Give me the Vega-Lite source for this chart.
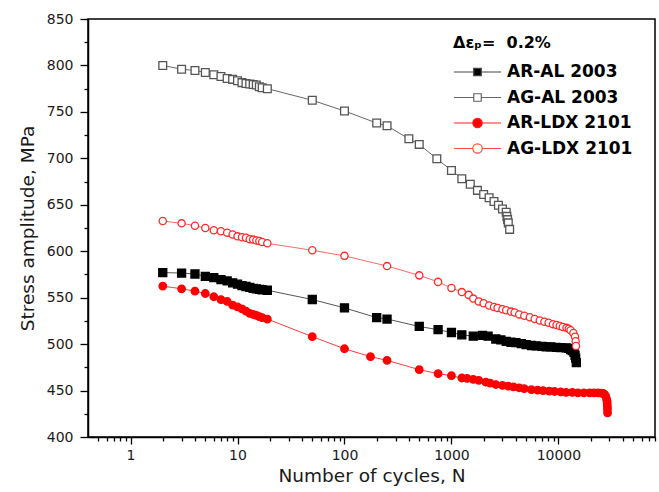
{
  "$schema": "https://vega.github.io/schema/vega-lite/v6.json",
  "width": 567,
  "height": 418,
  "autosize": {"type": "none"},
  "padding": {"left": 88, "top": 19, "right": 4, "bottom": 55},
  "background": "white",
  "config": {
    "view": {"stroke": "#000", "strokeWidth": 1.5},
    "axis": {
      "grid": false,
      "domainColor": "#000",
      "domainWidth": 1.5,
      "tickColor": "#000",
      "tickWidth": 1.3,
      "labelFont": "DejaVu Sans",
      "labelFontSize": 14,
      "labelColor": "#1a1a1a",
      "titleFont": "DejaVu Sans",
      "titleFontSize": 18.5,
      "titleFontWeight": "normal",
      "titleColor": "#1a1a1a",
      "labelFlush": false,
      "labelOverlap": false
    },
    "legend": {
      "titleFont": "DejaVu Sans",
      "titleFontSize": 16,
      "titleFontWeight": "bold",
      "titleColor": "#000",
      "titlePadding": 12,
      "labelFont": "DejaVu Sans",
      "labelFontSize": 17,
      "labelFontWeight": "bold",
      "labelColor": "#000",
      "labelOffset": 5,
      "labelLimit": 300,
      "rowPadding": 7.5,
      "clipHeight": 18,
      "symbolSize": 2209,
      "symbolStrokeWidth": 1.2,
      "symbolOpacity": 1,
      "padding": 0
    }
  },
  "resolve": {
    "axis": {"x": "independent", "y": "independent"},
    "scale": {"shape": "independent", "fill": "independent", "stroke": "independent"}
  },
  "data": {
    "values": [
      {"series": "AR-AL 2003", "N": 2, "S": 577},
      {"series": "AR-AL 2003", "N": 3, "S": 576.5},
      {"series": "AR-AL 2003", "N": 4, "S": 575.5},
      {"series": "AR-AL 2003", "N": 5, "S": 573},
      {"series": "AR-AL 2003", "N": 6, "S": 571.5},
      {"series": "AR-AL 2003", "N": 7, "S": 569.5},
      {"series": "AR-AL 2003", "N": 8, "S": 568},
      {"series": "AR-AL 2003", "N": 9, "S": 566},
      {"series": "AR-AL 2003", "N": 10, "S": 564.5},
      {"series": "AR-AL 2003", "N": 11, "S": 563},
      {"series": "AR-AL 2003", "N": 12, "S": 562},
      {"series": "AR-AL 2003", "N": 13, "S": 561},
      {"series": "AR-AL 2003", "N": 14, "S": 560},
      {"series": "AR-AL 2003", "N": 15, "S": 559.5},
      {"series": "AR-AL 2003", "N": 16, "S": 559},
      {"series": "AR-AL 2003", "N": 17, "S": 558.5},
      {"series": "AR-AL 2003", "N": 19, "S": 558},
      {"series": "AR-AL 2003", "N": 50, "S": 548},
      {"series": "AR-AL 2003", "N": 100, "S": 539},
      {"series": "AR-AL 2003", "N": 200, "S": 528.5},
      {"series": "AR-AL 2003", "N": 250, "S": 527},
      {"series": "AR-AL 2003", "N": 500, "S": 519},
      {"series": "AR-AL 2003", "N": 750, "S": 515.5},
      {"series": "AR-AL 2003", "N": 1000, "S": 512.5},
      {"series": "AR-AL 2003", "N": 1250, "S": 510},
      {"series": "AR-AL 2003", "N": 1600, "S": 508.5},
      {"series": "AR-AL 2003", "N": 1950, "S": 509.5},
      {"series": "AR-AL 2003", "N": 2200, "S": 508.5},
      {"series": "AR-AL 2003", "N": 2600, "S": 505.5},
      {"series": "AR-AL 2003", "N": 2900, "S": 504.5},
      {"series": "AR-AL 2003", "N": 3250, "S": 503},
      {"series": "AR-AL 2003", "N": 3600, "S": 502},
      {"series": "AR-AL 2003", "N": 4000, "S": 501.5},
      {"series": "AR-AL 2003", "N": 4500, "S": 500.5},
      {"series": "AR-AL 2003", "N": 5000, "S": 499.5},
      {"series": "AR-AL 2003", "N": 5600, "S": 498.5},
      {"series": "AR-AL 2003", "N": 6200, "S": 498},
      {"series": "AR-AL 2003", "N": 7000, "S": 497.5},
      {"series": "AR-AL 2003", "N": 7700, "S": 497},
      {"series": "AR-AL 2003", "N": 8500, "S": 497},
      {"series": "AR-AL 2003", "N": 9500, "S": 496.5},
      {"series": "AR-AL 2003", "N": 10500, "S": 496.3},
      {"series": "AR-AL 2003", "N": 11800, "S": 496},
      {"series": "AR-AL 2003", "N": 12500, "S": 495.5},
      {"series": "AR-AL 2003", "N": 13000, "S": 494},
      {"series": "AR-AL 2003", "N": 13500, "S": 493},
      {"series": "AR-AL 2003", "N": 14000, "S": 491},
      {"series": "AR-AL 2003", "N": 14300, "S": 488},
      {"series": "AR-AL 2003", "N": 14500, "S": 485},
      {"series": "AR-AL 2003", "N": 14700, "S": 480},
      {"series": "AG-AL 2003", "N": 2, "S": 800},
      {"series": "AG-AL 2003", "N": 3, "S": 796},
      {"series": "AG-AL 2003", "N": 4, "S": 794.5},
      {"series": "AG-AL 2003", "N": 5, "S": 792.5},
      {"series": "AG-AL 2003", "N": 6, "S": 790},
      {"series": "AG-AL 2003", "N": 7, "S": 788},
      {"series": "AG-AL 2003", "N": 8, "S": 786},
      {"series": "AG-AL 2003", "N": 9, "S": 785},
      {"series": "AG-AL 2003", "N": 10, "S": 783.5},
      {"series": "AG-AL 2003", "N": 11, "S": 781.5},
      {"series": "AG-AL 2003", "N": 12, "S": 780.5},
      {"series": "AG-AL 2003", "N": 13, "S": 780},
      {"series": "AG-AL 2003", "N": 14, "S": 779.5},
      {"series": "AG-AL 2003", "N": 15, "S": 779},
      {"series": "AG-AL 2003", "N": 16, "S": 777},
      {"series": "AG-AL 2003", "N": 17, "S": 776},
      {"series": "AG-AL 2003", "N": 19, "S": 775},
      {"series": "AG-AL 2003", "N": 50, "S": 762.5},
      {"series": "AG-AL 2003", "N": 100, "S": 751},
      {"series": "AG-AL 2003", "N": 200, "S": 738},
      {"series": "AG-AL 2003", "N": 250, "S": 735},
      {"series": "AG-AL 2003", "N": 400, "S": 721},
      {"series": "AG-AL 2003", "N": 500, "S": 715},
      {"series": "AG-AL 2003", "N": 730, "S": 699.5},
      {"series": "AG-AL 2003", "N": 1000, "S": 687},
      {"series": "AG-AL 2003", "N": 1250, "S": 678},
      {"series": "AG-AL 2003", "N": 1500, "S": 672},
      {"series": "AG-AL 2003", "N": 1750, "S": 665.5},
      {"series": "AG-AL 2003", "N": 2000, "S": 661},
      {"series": "AG-AL 2003", "N": 2250, "S": 657.5},
      {"series": "AG-AL 2003", "N": 2500, "S": 653.5},
      {"series": "AG-AL 2003", "N": 2750, "S": 649.5},
      {"series": "AG-AL 2003", "N": 3000, "S": 645.5},
      {"series": "AG-AL 2003", "N": 3250, "S": 642},
      {"series": "AG-AL 2003", "N": 3300, "S": 637.5},
      {"series": "AG-AL 2003", "N": 3350, "S": 634},
      {"series": "AG-AL 2003", "N": 3400, "S": 630.5},
      {"series": "AG-AL 2003", "N": 3500, "S": 623.5},
      {"series": "AR-LDX 2101", "N": 2, "S": 562.5},
      {"series": "AR-LDX 2101", "N": 3, "S": 559.5},
      {"series": "AR-LDX 2101", "N": 4, "S": 557},
      {"series": "AR-LDX 2101", "N": 5, "S": 554.5},
      {"series": "AR-LDX 2101", "N": 6, "S": 551},
      {"series": "AR-LDX 2101", "N": 7, "S": 548},
      {"series": "AR-LDX 2101", "N": 8, "S": 546},
      {"series": "AR-LDX 2101", "N": 9, "S": 542},
      {"series": "AR-LDX 2101", "N": 10, "S": 540},
      {"series": "AR-LDX 2101", "N": 11, "S": 538},
      {"series": "AR-LDX 2101", "N": 12, "S": 535.5},
      {"series": "AR-LDX 2101", "N": 13, "S": 533},
      {"series": "AR-LDX 2101", "N": 14, "S": 532},
      {"series": "AR-LDX 2101", "N": 15, "S": 531},
      {"series": "AR-LDX 2101", "N": 16, "S": 529.5},
      {"series": "AR-LDX 2101", "N": 17, "S": 528.5},
      {"series": "AR-LDX 2101", "N": 19, "S": 527},
      {"series": "AR-LDX 2101", "N": 50, "S": 508},
      {"series": "AR-LDX 2101", "N": 100, "S": 495},
      {"series": "AR-LDX 2101", "N": 175, "S": 486.5},
      {"series": "AR-LDX 2101", "N": 250, "S": 482.5},
      {"series": "AR-LDX 2101", "N": 500, "S": 472.5},
      {"series": "AR-LDX 2101", "N": 750, "S": 468.2},
      {"series": "AR-LDX 2101", "N": 1000, "S": 466},
      {"series": "AR-LDX 2101", "N": 1250, "S": 463.5},
      {"series": "AR-LDX 2101", "N": 1400, "S": 463},
      {"series": "AR-LDX 2101", "N": 1600, "S": 462},
      {"series": "AR-LDX 2101", "N": 1800, "S": 461},
      {"series": "AR-LDX 2101", "N": 2100, "S": 459},
      {"series": "AR-LDX 2101", "N": 2300, "S": 458},
      {"series": "AR-LDX 2101", "N": 2600, "S": 456.5},
      {"series": "AR-LDX 2101", "N": 3000, "S": 455.5},
      {"series": "AR-LDX 2101", "N": 3400, "S": 454.7},
      {"series": "AR-LDX 2101", "N": 3800, "S": 454},
      {"series": "AR-LDX 2101", "N": 4300, "S": 453},
      {"series": "AR-LDX 2101", "N": 4800, "S": 452},
      {"series": "AR-LDX 2101", "N": 5600, "S": 451},
      {"series": "AR-LDX 2101", "N": 6400, "S": 450.5},
      {"series": "AR-LDX 2101", "N": 7200, "S": 450},
      {"series": "AR-LDX 2101", "N": 8200, "S": 449.5},
      {"series": "AR-LDX 2101", "N": 9200, "S": 449},
      {"series": "AR-LDX 2101", "N": 10500, "S": 448.5},
      {"series": "AR-LDX 2101", "N": 11800, "S": 448},
      {"series": "AR-LDX 2101", "N": 13500, "S": 448},
      {"series": "AR-LDX 2101", "N": 15200, "S": 447.6},
      {"series": "AR-LDX 2101", "N": 17300, "S": 447.6},
      {"series": "AR-LDX 2101", "N": 19600, "S": 447.5},
      {"series": "AR-LDX 2101", "N": 21500, "S": 447.5},
      {"series": "AR-LDX 2101", "N": 23500, "S": 447.5},
      {"series": "AR-LDX 2101", "N": 25000, "S": 447.3},
      {"series": "AR-LDX 2101", "N": 26200, "S": 447},
      {"series": "AR-LDX 2101", "N": 27000, "S": 446},
      {"series": "AR-LDX 2101", "N": 27700, "S": 444},
      {"series": "AR-LDX 2101", "N": 28200, "S": 441},
      {"series": "AR-LDX 2101", "N": 28500, "S": 438.5},
      {"series": "AR-LDX 2101", "N": 28600, "S": 436},
      {"series": "AR-LDX 2101", "N": 28700, "S": 433},
      {"series": "AR-LDX 2101", "N": 28750, "S": 430},
      {"series": "AR-LDX 2101", "N": 28800, "S": 426},
      {"series": "AG-LDX 2101", "N": 2, "S": 632.5},
      {"series": "AG-LDX 2101", "N": 3, "S": 630},
      {"series": "AG-LDX 2101", "N": 4, "S": 627.5},
      {"series": "AG-LDX 2101", "N": 5, "S": 625},
      {"series": "AG-LDX 2101", "N": 6, "S": 622.5},
      {"series": "AG-LDX 2101", "N": 7, "S": 621.5},
      {"series": "AG-LDX 2101", "N": 8, "S": 620},
      {"series": "AG-LDX 2101", "N": 9, "S": 618},
      {"series": "AG-LDX 2101", "N": 10, "S": 616},
      {"series": "AG-LDX 2101", "N": 11, "S": 615},
      {"series": "AG-LDX 2101", "N": 12, "S": 614.5},
      {"series": "AG-LDX 2101", "N": 13, "S": 613},
      {"series": "AG-LDX 2101", "N": 14, "S": 612.5},
      {"series": "AG-LDX 2101", "N": 15, "S": 611.5},
      {"series": "AG-LDX 2101", "N": 16, "S": 611},
      {"series": "AG-LDX 2101", "N": 17, "S": 610},
      {"series": "AG-LDX 2101", "N": 19, "S": 608.5},
      {"series": "AG-LDX 2101", "N": 50, "S": 601},
      {"series": "AG-LDX 2101", "N": 100, "S": 595},
      {"series": "AG-LDX 2101", "N": 250, "S": 584},
      {"series": "AG-LDX 2101", "N": 500, "S": 574},
      {"series": "AG-LDX 2101", "N": 750, "S": 567},
      {"series": "AG-LDX 2101", "N": 1000, "S": 560.5},
      {"series": "AG-LDX 2101", "N": 1250, "S": 556},
      {"series": "AG-LDX 2101", "N": 1450, "S": 553},
      {"series": "AG-LDX 2101", "N": 1600, "S": 549},
      {"series": "AG-LDX 2101", "N": 1800, "S": 546},
      {"series": "AG-LDX 2101", "N": 2000, "S": 544},
      {"series": "AG-LDX 2101", "N": 2250, "S": 541.5},
      {"series": "AG-LDX 2101", "N": 2500, "S": 540},
      {"series": "AG-LDX 2101", "N": 2700, "S": 539},
      {"series": "AG-LDX 2101", "N": 3000, "S": 537.5},
      {"series": "AG-LDX 2101", "N": 3250, "S": 536.5},
      {"series": "AG-LDX 2101", "N": 3600, "S": 535},
      {"series": "AG-LDX 2101", "N": 3900, "S": 534},
      {"series": "AG-LDX 2101", "N": 4300, "S": 532},
      {"series": "AG-LDX 2101", "N": 4800, "S": 530.5},
      {"series": "AG-LDX 2101", "N": 5400, "S": 529},
      {"series": "AG-LDX 2101", "N": 6000, "S": 527},
      {"series": "AG-LDX 2101", "N": 6700, "S": 525.5},
      {"series": "AG-LDX 2101", "N": 7400, "S": 524},
      {"series": "AG-LDX 2101", "N": 8100, "S": 523},
      {"series": "AG-LDX 2101", "N": 8900, "S": 521.5},
      {"series": "AG-LDX 2101", "N": 9600, "S": 520.5},
      {"series": "AG-LDX 2101", "N": 10300, "S": 519.5},
      {"series": "AG-LDX 2101", "N": 11000, "S": 518.5},
      {"series": "AG-LDX 2101", "N": 11900, "S": 517.5},
      {"series": "AG-LDX 2101", "N": 12500, "S": 516.5},
      {"series": "AG-LDX 2101", "N": 13000, "S": 515},
      {"series": "AG-LDX 2101", "N": 13800, "S": 512},
      {"series": "AG-LDX 2101", "N": 14300, "S": 508},
      {"series": "AG-LDX 2101", "N": 14500, "S": 503},
      {"series": "AG-LDX 2101", "N": 14600, "S": 498}
    ]
  },
  "layer": [
    {
      "mark": {"type": "line", "strokeWidth": 1},
      "encoding": {
        "x": {
          "field": "N",
          "type": "quantitative",
          "scale": {"type": "log", "domain": [0.4, 80000], "nice": false},
          "axis": {
            "orient": "bottom",
            "title": "Number of cycles, N",
            "values": [1, 10, 100, 1000, 10000],
            "format": "d",
            "tickSize": 7,
            "labelPadding": 4,
            "titlePadding": 4
          }
        },
        "y": {
          "field": "S",
          "type": "quantitative",
          "scale": {"domain": [400, 850], "nice": false, "zero": false},
          "axis": {
            "orient": "left",
            "title": "Stress amplitude, MPa",
            "values": [400, 450, 500, 550, 600, 650, 700, 750, 800, 850],
            "tickSize": 8,
            "labelPadding": 7,
            "titlePadding": 9
          }
        },
        "color": {
          "field": "series",
          "type": "nominal",
          "scale": {"domain": ["AG-LDX 2101", "AR-LDX 2101", "AG-AL 2003", "AR-AL 2003"], "range": ["#ff6a6a", "#ff3c3c", "#666666", "#555555"]},
          "legend": null
        }
      }
    },
    {
      "mark": {"type": "point", "opacity": 1, "strokeWidth": 1.3},
      "encoding": {
        "x": {
          "field": "N",
          "type": "quantitative",
          "scale": {"type": "log", "domain": [0.4, 80000], "nice": false},
          "axis": {
            "orient": "bottom",
            "title": null,
            "domain": false,
            "labels": false,
            "values": [0.5, 0.6, 0.7, 0.8, 0.9, 2, 3, 4, 5, 6, 7, 8, 9, 20, 30, 40, 50, 60, 70, 80, 90, 200, 300, 400, 500, 600, 700, 800, 900, 2000, 3000, 4000, 5000, 6000, 7000, 8000, 9000, 20000, 30000, 40000, 50000, 60000, 70000, 80000],
            "tickSize": 4
          }
        },
        "y": {
          "field": "S",
          "type": "quantitative",
          "scale": {"domain": [400, 850], "nice": false, "zero": false},
          "axis": {
            "orient": "left",
            "title": null,
            "domain": false,
            "labels": false,
            "values": [425, 475, 525, 575, 625, 675, 725, 775, 825],
            "tickSize": 4
          }
        },
        "shape": {
          "field": "series",
          "type": "nominal",
          "scale": {"domain": ["AG-LDX 2101", "AR-LDX 2101", "AG-AL 2003", "AR-AL 2003"], "range": ["circle", "circle", "square", "square"]},
          "legend": null
        },
        "stroke": {
          "field": "series",
          "type": "nominal",
          "scale": {"domain": ["AG-LDX 2101", "AR-LDX 2101", "AG-AL 2003", "AR-AL 2003"], "range": ["#ff2a2a", "#ff0000", "#555555", "#000000"]},
          "legend": null
        },
        "size": {
          "field": "series",
          "type": "nominal",
          "scale": {"domain": ["AG-LDX 2101", "AR-LDX 2101", "AG-AL 2003", "AR-AL 2003"], "range": [52, 64, 52, 52]},
          "legend": null
        },
        "fill": {
          "field": "series",
          "type": "nominal",
          "scale": {"domain": ["AG-LDX 2101", "AR-LDX 2101", "AG-AL 2003", "AR-AL 2003"], "range": ["#ffffff", "#ff0000", "#ffffff", "#000000"]},
          "legend": null
        }
      }
    },
    {
      "transform": [{"filter": "datum.N < 0"}],
      "mark": {"type": "point", "opacity": 1, "filled": false},
      "encoding": {
        "shape": {
          "field": "series",
          "type": "nominal",
          "scale": {
            "domain": ["AR-AL 2003", "AG-AL 2003", "AR-LDX 2101", "AG-LDX 2101"],
            "range": [
              "M-1,0H-0.17M0.17,0H1M-0.16,-0.16H0.16V0.16H-0.16Z",
              "M-1,0H-0.17M0.17,0H1M-0.16,-0.16H0.16V0.16H-0.16Z",
              "M-1,0H-0.21M0.21,0H1M0.2,0A0.2,0.2 0 1 1 -0.2,0A0.2,0.2 0 1 1 0.2,0Z",
              "M-1,0H-0.21M0.21,0H1M0.2,0A0.2,0.2 0 1 1 -0.2,0A0.2,0.2 0 1 1 0.2,0Z"
            ]
          },
          "legend": {"title": "Δεₚ=\u00a0\u00a00.2%", "orient": "none", "legendX": 365, "legendY": 16}
        },
        "fill": {
          "field": "series",
          "type": "nominal",
          "scale": {"domain": ["AR-AL 2003", "AG-AL 2003", "AR-LDX 2101", "AG-LDX 2101"], "range": ["#000000", "#ffffff", "#ff0000", "#ffffff"]},
          "legend": {"title": "Δεₚ=\u00a0\u00a00.2%", "orient": "none", "legendX": 365, "legendY": 16}
        },
        "stroke": {
          "field": "series",
          "type": "nominal",
          "scale": {"domain": ["AR-AL 2003", "AG-AL 2003", "AR-LDX 2101", "AG-LDX 2101"], "range": ["#444444", "#666666", "#ff2020", "#ff4a4a"]},
          "legend": {"title": "Δεₚ=\u00a0\u00a00.2%", "orient": "none", "legendX": 365, "legendY": 16}
        }
      }
    }
  ]
}
